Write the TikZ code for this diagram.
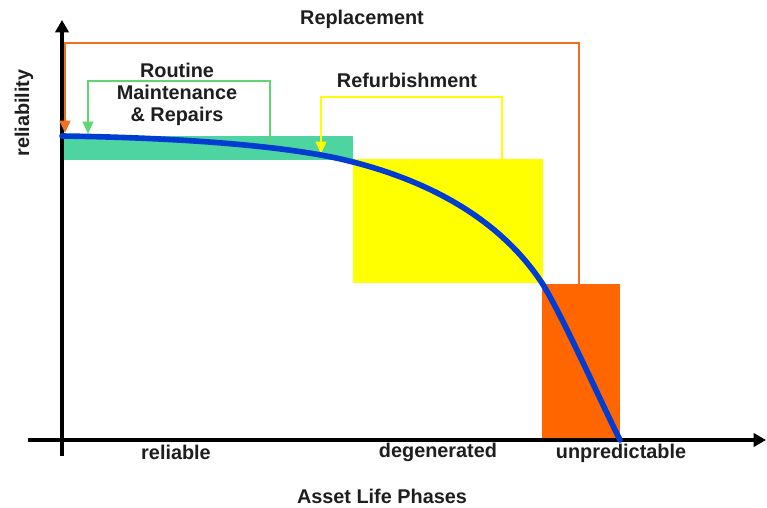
\documentclass[tikz,border=0pt]{standalone}
\usepackage{fontspec}
\setmainfont{Liberation Sans}
\usetikzlibrary{arrows.meta,positioning}

\definecolor{bandgreen}{RGB}{78,212,160}
\definecolor{linegreen}{RGB}{95,214,115}
\definecolor{refyellow}{RGB}{255,255,0}
\definecolor{replorange}{RGB}{255,102,0}
\definecolor{lineorange}{RGB}{240,112,32}
\definecolor{curveblue}{RGB}{0,60,210}
\definecolor{labelgray}{RGB}{30,30,30}

\begin{document}
\begin{tikzpicture}[x=0.02cm, y=-0.02cm,
    lbl/.style={font=\fontsize{11.3}{12.5}\selectfont\bfseries, text=labelgray, inner sep=1pt},
    axis/.style={line width=2.6pt, -{Triangle[length=7pt,width=7.5pt]}},
    bracket/.style={line width=1.1pt, -{Triangle[length=7pt,width=6pt]}}]
    \useasboundingbox (0,0) rectangle (767,507);

    % phase boxes
    \fill[bandgreen] (62,136) rectangle (353,160);
    \fill[refyellow] (353,159) rectangle (543,283);
    \fill[replorange] (542,284) rectangle (620,440);

    % axes
    \coordinate (origin) at (62,440);
    \draw[axis] (62,456) -- (62,20);
    \draw[axis] (28,440) -- (766,440);

    % brackets
    \coordinate (replFrom) at (579,284);
    \coordinate (replTo) at (65,133);
    \coordinate (routFrom) at (270,145);
    \coordinate (routTo) at (88,134);
    \coordinate (refuFrom) at (502,159);
    \coordinate (refuTo) at (321,154);
    \draw[bracket, lineorange, line width=1.6pt] (replFrom) |- (65,43) -- (replTo);
    \draw[bracket, linegreen] (routFrom) |- (88,81) -- (routTo);
    \draw[bracket, refyellow] (refuFrom) |- (321,97) -- (refuTo);

    % reliability curve
    \draw[curveblue, line width=3.2pt, line cap=round]
        (62,136) .. controls (200,138) and (300,148) .. (353,162)
        .. controls (423,180) and (497,215) .. (542,283)
        .. controls (562,315) and (600,400) .. (620,440);

    % labels
    \node[lbl] (replacement) at (362,19) {Replacement};
    \node[lbl, align=center] (routine) at (177,94) {Routine\\Maintenance\\\& Repairs};
    \node[lbl] (refurb) at (407,80) {Refurbishment};
    \node[lbl, rotate=90] (yname) at (24,113) {reliability};
    \node[lbl] (reliable) at (176,452) {reliable};
    \node[lbl] (degen) at (438,452) {degenerated};
    \node[lbl] (unpred) at (621,453) {unpredictable};
    \node[lbl] (xname) at (382,496) {Asset Life Phases};
\end{tikzpicture}
\end{document}
